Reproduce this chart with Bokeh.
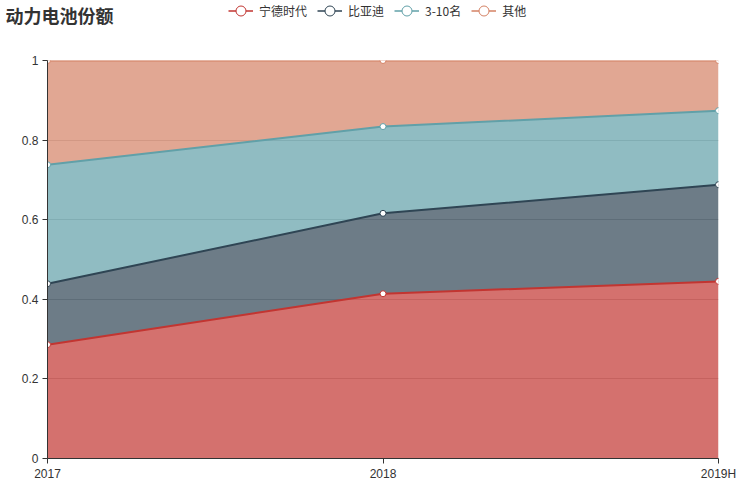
import numpy as np
from bokeh.plotting import figure
from bokeh.layouts import column
from bokeh.models import (ColumnDataSource, FixedTicker, Range1d, Label, Legend, LegendItem)
from bokeh.embed import file_html
from bokeh.resources import INLINE

# ---- data ----
categories = ["2017", "2018", "2019H"]
series_names = ["宁德时代", "比亚迪", "3-10名", "其他"]
catl = [0.286, 0.414, 0.445]
byd = [0.153, 0.202, 0.243]
top3_10 = [0.299, 0.218, 0.186]
others = [0.262, 0.166, 0.126]
y_ticks = [0, 0.2, 0.4, 0.6, 0.8, 1]
y_tick_labels = ["0", "0.2", "0.4", "0.6", "0.8", "1"]
colors = ["#c23531", "#2f4554", "#61a0a8", "#d48265"]
title_text = "动力电池份额"

CJK = "Noto Sans CJK SC"
NUM = "Liberation Sans"
W = 740
HEAD_H = 30
HEAD_Y0 = 20  # header y range starts well above the data so only the legend icons show

x = list(range(len(categories)))
series = [catl, byd, top3_10, others]
cum = np.cumsum(np.array(series), axis=0)
base = np.vstack([np.zeros(len(x)), cum[:-1]])
line_sources = [ColumnDataSource(dict(x=x, y=cum[i])) for i in range(len(series))]

# ---- header (title + legend) ----
h = figure(width=W, height=HEAD_H, output_backend="svg", toolbar_location=None,
           x_range=Range1d(0, W), y_range=Range1d(HEAD_Y0, HEAD_Y0 + HEAD_H),
           x_axis_location=None, y_axis_location=None,
           min_border=0, min_border_left=0, min_border_right=0,
           min_border_top=0, min_border_bottom=0)
try:
    h.frame_align = False
except Exception:
    pass
h.outline_line_color = None
h.xgrid.visible = False
h.ygrid.visible = False
h.add_layout(Label(x=5, y=HEAD_Y0 + HEAD_H - 14, text=title_text,
                   text_font=CJK, text_font_size="18px", text_font_style="bold",
                   text_color="#333333", text_baseline="middle"))
legend_items = []
for i, name in enumerate(series_names):
    ln = h.line(x="x", y="y", source=line_sources[i], line_color=colors[i], line_width=1.5)
    sc = h.scatter(x="x", y="y", source=line_sources[i], size=9, marker="circle",
                   fill_color="white", line_color=colors[i], line_width=1)
    legend_items.append(LegendItem(label=name, renderers=[ln, sc]))
legend = Legend(items=legend_items, orientation="horizontal", location=(228, 7),
                label_text_font=CJK, label_text_font_size="12px", label_text_color="#333333",
                glyph_width=25, glyph_height=25, label_standoff=6, spacing=10,
                padding=0, margin=0, border_line_color=None, background_fill_alpha=0)
h.add_layout(legend, "center")

# ---- main chart ----
p = figure(width=W, height=455, output_backend="svg", toolbar_location=None,
           x_range=Range1d(0, len(x) - 1), y_range=Range1d(0, 1.0),
           min_border_left=47, min_border_right=22, min_border_top=30, min_border_bottom=27)
p.outline_line_color = None

for i, name in enumerate(series_names):
    src = ColumnDataSource(dict(x=x, y1=base[i], y2=cum[i]))
    p.varea(x="x", y1="y1", y2="y2", source=src, fill_color=colors[i], fill_alpha=0.7)
for i, name in enumerate(series_names):
    p.line(x="x", y="y", source=line_sources[i], line_color=colors[i], line_width=2)
    p.scatter(x="x", y="y", source=line_sources[i], size=6, marker="circle",
              fill_color="white", line_color=colors[i], line_width=1)

p.xaxis.ticker = FixedTicker(ticks=x)
p.xaxis.major_label_overrides = {i: c for i, c in zip(x, categories)}
p.yaxis.ticker = FixedTicker(ticks=y_ticks)
p.yaxis.major_label_overrides = {t: l for t, l in zip(y_ticks, y_tick_labels)}
for ax in (p.xaxis, p.yaxis):
    ax.axis_line_color = "#333333"
    ax.major_tick_line_color = "#333333"
    ax.major_tick_out = 5
    ax.major_tick_in = 0
    ax.minor_tick_line_color = None
    ax.major_label_text_font = NUM
    ax.major_label_text_font_size = "12px"
    ax.major_label_text_color = "#333333"
p.xaxis.major_label_standoff = 3
p.yaxis.major_label_standoff = 4

p.xgrid.grid_line_color = None
p.ygrid.ticker = FixedTicker(ticks=y_ticks)
p.ygrid.grid_line_color = "#cccccc"

layout = column(h, p, spacing=0)
open("out.html", "w").write(file_html(layout, INLINE))
